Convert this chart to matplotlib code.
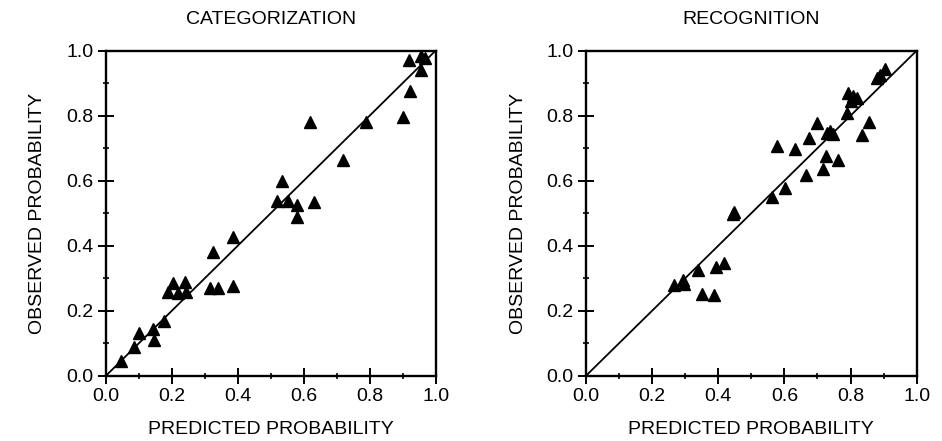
import numpy as np
import matplotlib
matplotlib.use('Agg')
import matplotlib.pyplot as plt
from matplotlib.ticker import MultipleLocator

# categorization: predicted vs observed
cat_pred = [0.047, 0.085, 0.102, 0.144, 0.145, 0.177, 0.188, 0.203, 0.220, 0.240,
            0.243, 0.316, 0.341, 0.385, 0.326, 0.385, 0.518, 0.533, 0.552, 0.579,
            0.579, 0.620, 0.632, 0.720, 0.788, 0.900, 0.922, 0.920, 0.955, 0.955, 0.968]
cat_obs = [0.045, 0.088, 0.133, 0.143, 0.112, 0.169, 0.259, 0.285, 0.255, 0.290,
           0.259, 0.270, 0.270, 0.277, 0.382, 0.427, 0.538, 0.600, 0.538, 0.526,
           0.488, 0.780, 0.536, 0.665, 0.780, 0.797, 0.876, 0.972, 0.940, 0.982, 0.976]

# recognition: predicted vs observed
rec_pred = [0.267, 0.293, 0.297, 0.340, 0.350, 0.386, 0.394, 0.418, 0.446, 0.448,
            0.562, 0.577, 0.603, 0.632, 0.666, 0.673, 0.698, 0.716, 0.727, 0.728,
            0.738, 0.746, 0.761, 0.790, 0.793, 0.808, 0.800, 0.819, 0.836, 0.857,
            0.881, 0.889, 0.904]
rec_obs = [0.279, 0.296, 0.282, 0.327, 0.252, 0.248, 0.334, 0.348, 0.498, 0.503,
           0.550, 0.706, 0.579, 0.697, 0.618, 0.731, 0.777, 0.635, 0.677, 0.746,
           0.753, 0.743, 0.664, 0.809, 0.870, 0.860, 0.845, 0.855, 0.740, 0.779,
           0.916, 0.924, 0.942]

TICKS = [0.0, 0.2, 0.4, 0.6, 0.8, 1.0]
TICK_LABELS = ["0.0", "0.2", "0.4", "0.6", "0.8", "1.0"]

plt.rcParams.update({
    "font.family": ["Liberation Sans", "DejaVu Sans"],
    "font.size": 14,
    "axes.linewidth": 1.7,
})

fig = plt.figure(figsize=(9.42, 4.41), dpi=100)
ax1 = fig.add_axes([0.1122, 0.1474, 0.3503, 0.738])
ax2 = fig.add_axes([0.6218, 0.1474, 0.3514, 0.738])

panels = [
    (ax1, cat_pred, cat_obs, "CATEGORIZATION"),
    (ax2, rec_pred, rec_obs, "RECOGNITION"),
]

for ax, xp, yo, title in panels:
    ax.plot([0, 1], [0, 1], color="black", linewidth=1.3)
    ax.plot(xp, yo, "^", color="black", markersize=8, linestyle="none")
    ax.set_xlim(0, 1)
    ax.set_ylim(0, 1)
    ax.set_xticks(TICKS)
    ax.set_xticklabels(TICK_LABELS)
    ax.set_yticks(TICKS)
    ax.set_yticklabels(TICK_LABELS)
    ax.xaxis.set_minor_locator(MultipleLocator(0.1))
    ax.yaxis.set_minor_locator(MultipleLocator(0.1))
    ax.tick_params(which="major", direction="inout", length=11, width=1.4, labelsize=14)
    ax.tick_params(which="minor", direction="inout", length=5, width=1.2)
    ax.tick_params(top=False, right=False)
    ax.set_title(title, fontsize=14, pad=19)
    ax.set_xlabel("PREDICTED PROBABILITY", fontsize=14, labelpad=11)
    ax.set_ylabel("OBSERVED PROBABILITY", fontsize=14, labelpad=14)

fig.savefig("out.png", dpi=100)
